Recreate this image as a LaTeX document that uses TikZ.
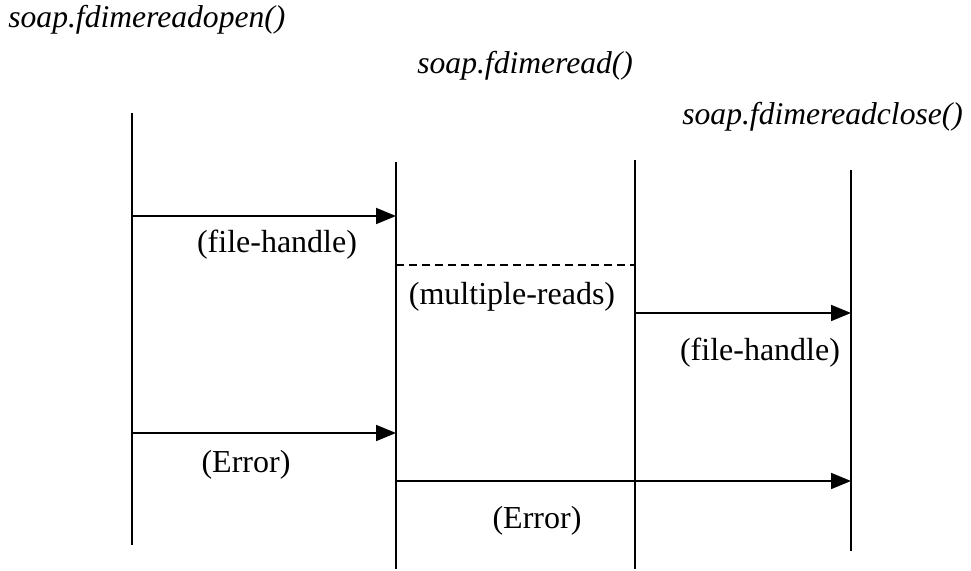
\documentclass[tikz,border=0pt]{standalone}
\usepackage{fontspec}
\setmainfont{Liberation Serif}
\usetikzlibrary{arrows.meta}

\begin{document}
\begin{tikzpicture}[
    x=0.5pt, y=-0.5pt,
    every node/.style={inner sep=0pt},
    call/.style={font=\fontsize{15.8}{18}\selectfont\itshape, anchor=west},
    lbl/.style={font=\fontsize{16}{19}\selectfont},
    life/.style={draw, line width=0.9pt},
    msg/.style={draw, line width=0.9pt, -{Triangle[length=10pt, width=8pt]}},
    loop/.style={draw, line width=0.6pt, dash pattern=on 4pt off 2.5pt}
]
\useasboundingbox (0,0) rectangle (971,571);

% Call names
\node[call] (openCall) at (8,20) {soap.fdimereadopen()};
\node[call] (readCall) at (417,66) {soap.fdimeread()};
\node[call] (closeCall) at (682,117) {soap.fdimereadclose()};

% Lifelines
\coordinate (openTop) at (132,113);   \coordinate (openBot) at (132,545);
\coordinate (readTop) at (396,162);   \coordinate (readBot) at (396,569);
\coordinate (loopTop) at (635,160);   \coordinate (loopBot) at (635,569);
\coordinate (closeTop) at (851,170);  \coordinate (closeBot) at (851,551);
\draw[life] (openTop) -- (openBot);
\draw[life] (readTop) -- (readBot);
\draw[life] (loopTop) -- (loopBot);
\draw[life] (closeTop) -- (closeBot);

% Message ends
\coordinate (openH) at (openTop |- 0,216);    \coordinate (readH) at (readTop |- 0,216);
\coordinate (readL) at (readTop |- 0,265);    \coordinate (loopL) at (loopTop |- 0,265);
\coordinate (loopH) at (loopTop |- 0,313);    \coordinate (closeH) at (closeTop |- 0,313);
\coordinate (openE) at (openTop |- 0,433);    \coordinate (readE) at (readTop |- 0,433);
\coordinate (readF) at (readTop |- 0,481);    \coordinate (closeE) at (closeTop |- 0,481);

% Messages
\draw[msg] (openH) -- (readH);
\draw[loop] (readL) -- (loopL);
\draw[msg] (loopH) -- (closeH);
\draw[msg] (openE) -- (readE);
\draw[msg] (readF) -- (closeE);

% Labels
\node[lbl] (handleOpen) at (277,245) {(file-handle)};
\node[lbl] (multiReads) at (512,297) {(multiple-reads)};
\node[lbl] (handleClose) at (760,353) {(file-handle)};
\node[lbl] (errOpen) at (246,465) {(Error)};
\node[lbl] (errRead) at (537,521) {(Error)};
\end{tikzpicture}
\end{document}
